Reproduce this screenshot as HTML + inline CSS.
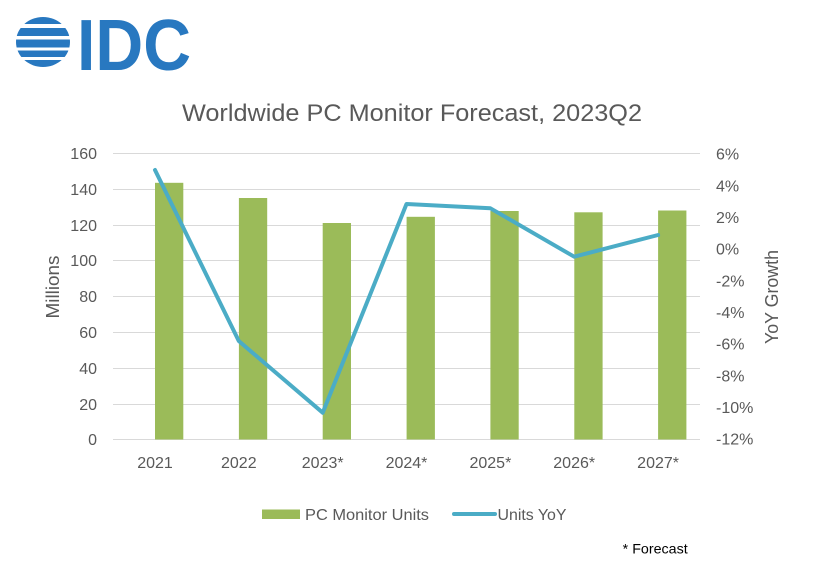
<!DOCTYPE html>
<html><head><meta charset="utf-8"><style>
html,body{margin:0;padding:0;background:#fff;}
svg{display:block;}
text{font-family:"Liberation Sans",sans-serif;}
</style></head><body>
<svg width="822" height="577" viewBox="0 0 822 577" xmlns="http://www.w3.org/2000/svg">
<rect width="822" height="577" fill="#fff"/>
<defs><clipPath id="g"><ellipse cx="43" cy="42" rx="27" ry="25"/></clipPath></defs>
<g clip-path="url(#g)" fill="#2878c0">
<rect x="14" y="17" width="60" height="7"/>
<rect x="14" y="28" width="60" height="8"/>
<rect x="14" y="39.5" width="60" height="8"/>
<rect x="14" y="50.5" width="60" height="6.5"/>
<rect x="14" y="60" width="60" height="7"/>
</g>
<text x="77" y="70" font-size="72" font-weight="bold" fill="#2878c0" textLength="114" lengthAdjust="spacingAndGlyphs">IDC</text>

<text x="182" y="121" font-size="24" fill="#595959" textLength="460" lengthAdjust="spacingAndGlyphs">Worldwide PC Monitor Forecast, 2023Q2</text>

<g stroke="#d9d9d9" stroke-width="1">
<line x1="113" x2="700" y1="153.5" y2="153.5"/>
<line x1="113" x2="700" y1="189.5" y2="189.5"/>
<line x1="113" x2="700" y1="225.5" y2="225.5"/>
<line x1="113" x2="700" y1="260.5" y2="260.5"/>
<line x1="113" x2="700" y1="296.5" y2="296.5"/>
<line x1="113" x2="700" y1="332.5" y2="332.5"/>
<line x1="113" x2="700" y1="368.5" y2="368.5"/>
<line x1="113" x2="700" y1="404.5" y2="404.5"/>
<line x1="113" x2="700" y1="439.5" y2="439.5"/>
</g>

<g fill="#9bbb59">
<rect x="155" y="182.8" width="28.3" height="256.7"/>
<rect x="238.9" y="198" width="28.3" height="241.5"/>
<rect x="322.7" y="223" width="28.3" height="216.5"/>
<rect x="406.6" y="216.8" width="28.3" height="222.7"/>
<rect x="490.4" y="211" width="28.3" height="228.5"/>
<rect x="574.3" y="212.3" width="28.3" height="227.2"/>
<rect x="658.1" y="210.5" width="28.3" height="229"/>
</g>

<polyline fill="none" stroke="#4bacc6" stroke-width="4" stroke-linejoin="round" stroke-linecap="round"
 points="155,170 238.8,341 322.7,412.7 406.5,204 490.4,208.3 574.2,256.7 658.1,235"/>

<g font-size="16" fill="#595959" text-anchor="end">
<text x="97" y="159">160</text>
<text x="97" y="195">140</text>
<text x="97" y="231">120</text>
<text x="97" y="266">100</text>
<text x="97" y="302">80</text>
<text x="97" y="338">60</text>
<text x="97" y="374">40</text>
<text x="97" y="410">20</text>
<text x="97" y="445">0</text>
</g>

<g font-size="16" fill="#595959">
<text x="716" y="159.7">6%</text>
<text x="716" y="191.4">4%</text>
<text x="716" y="223.0">2%</text>
<text x="716" y="254.7">0%</text>
<text x="716" y="286.4">-2%</text>
<text x="716" y="318.0">-4%</text>
<text x="716" y="349.7">-6%</text>
<text x="716" y="381.4">-8%</text>
<text x="716" y="413.0">-10%</text>
<text x="716" y="444.7">-12%</text>
</g>

<g font-size="16" fill="#595959" text-anchor="middle">
<text x="155" y="468">2021</text>
<text x="238.8" y="468">2022</text>
<text x="322.7" y="468">2023*</text>
<text x="406.5" y="468">2024*</text>
<text x="490.4" y="468">2025*</text>
<text x="574.2" y="468">2026*</text>
<text x="658.1" y="468">2027*</text>
</g>

<text transform="translate(59,287) rotate(-90)" font-size="18" fill="#595959" text-anchor="middle" textLength="63" lengthAdjust="spacingAndGlyphs">Millions</text>
<text transform="translate(778,297) rotate(-90)" font-size="18" fill="#595959" text-anchor="middle" textLength="94" lengthAdjust="spacingAndGlyphs">YoY Growth</text>

<rect x="262" y="509.5" width="38" height="9.5" fill="#9bbb59"/>
<text x="305" y="520" font-size="16" fill="#595959" textLength="124" lengthAdjust="spacingAndGlyphs">PC Monitor Units</text>
<line x1="454" x2="495" y1="514" y2="514" stroke="#4bacc6" stroke-width="4" stroke-linecap="round"/>
<text x="497.5" y="520" font-size="16" fill="#595959" textLength="69" lengthAdjust="spacingAndGlyphs">Units YoY</text>

<text x="622.7" y="553.5" font-size="14" fill="#000" textLength="65" lengthAdjust="spacingAndGlyphs">* Forecast</text>
</svg>
</body></html>
